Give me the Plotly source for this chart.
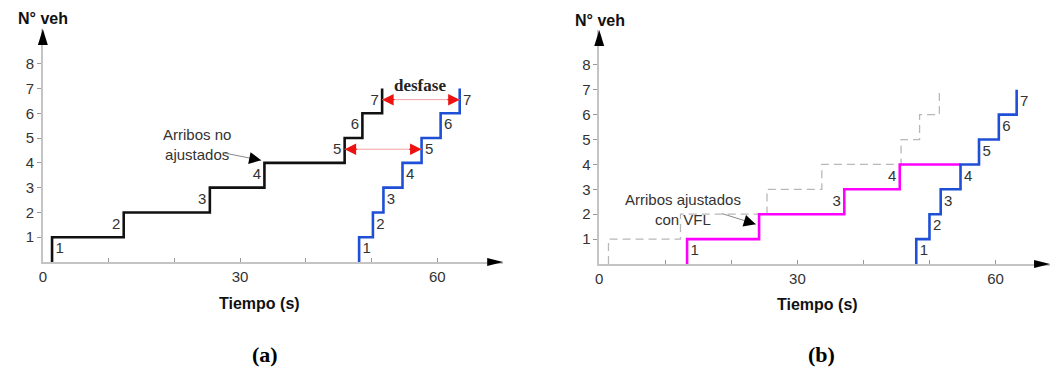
import plotly.graph_objects as go

# ---------------- data ----------------
# (a) unadjusted arrivals (black) and downstream curve (blue): times in s for vehicles 1..7
black_a_times = [1.4, 12.3, 25.4, 33.7, 45.9, 48.6, 51.6]
blue_a_times = [48.1, 50.2, 51.8, 54.7, 57.6, 60.5, 63.4]
# (b) unadjusted (grey dashed), adjusted with VFL (magenta), blue
grey_b_times = [1.4, 12.3, 25.4, 33.7, 45.7, 48.5, 51.5]
magenta_b_times = [13.3, 24.2, 37.1, 45.5]
blue_b_times = [48.0, 50.0, 51.7, 54.7, 57.5, 60.5, 63.2]
veh_labels = ["1", "2", "3", "4", "5", "6", "7"]
y_ticks = [1, 2, 3, 4, 5, 6, 7, 8]
x_ticks = [0, 10, 20, 30, 40, 50, 60]
x_ticktext = ["0", "", "", "30", "", "", "60"]

W, H = 1054, 367
TXT = "#333333"
AXC = "#c4c4c4"
BLUE = "#1f4fd6"
MAG = "#ff00ff"
BLK = "#111111"
SANS = "Liberation Sans, Arial"
SERIF = "Liberation Serif, Times New Roman"


def steps(times, final=None):
    xs = [times[0]]
    ys = [0]
    for k, t in enumerate(times):
        xs.append(t)
        ys.append(k + 1)
    if final is not None:
        xs.append(final)
        ys.append(len(times))
    return xs, ys


fig = go.Figure()


def add_step(times, xa, ya, color, width=2.6, dash=None, final=None):
    xs, ys = steps(times, final)
    fig.add_trace(go.Scatter(x=xs, y=ys, mode="lines", line_shape="hv",
                             line=dict(color=color, width=width, dash=dash),
                             xaxis=xa, yaxis=ya, hoverinfo="skip"))


def add_labels(times, xa, ya, sides, idx=None):
    idx = idx if idx is not None else list(range(len(times)))
    fig.add_trace(go.Scatter(
        x=[times[i] + 1.15 * sides[j] for j, i in enumerate(idx)],
        y=[i + 0.5 for i in idx],
        text=[veh_labels[i] for i in idx], mode="text",
        textposition="middle center",
        textfont=dict(family=SANS, size=15, color=TXT),
        xaxis=xa, yaxis=ya, hoverinfo="skip", cliponaxis=False))


# panel (a)
add_step(black_a_times, "x", "y", BLK)
add_step(blue_a_times, "x", "y", BLUE)
add_labels(black_a_times, "x", "y", [1] + [-1] * 6)
add_labels(blue_a_times, "x", "y", [1] * 7)

# panel (b)
add_step(grey_b_times, "x2", "y2", "#b8b8b8", width=1.3, dash="8px,5px")
add_step(magenta_b_times, "x2", "y2", MAG, final=blue_b_times[3])
add_step(blue_b_times, "x2", "y2", BLUE)
add_labels(magenta_b_times, "x2", "y2", [1, -1, -1], idx=[0, 2, 3])
add_labels(blue_b_times, "x2", "y2", [1] * 7)

# ---------------- axes ----------------
A_X0, A_X1 = 39, 501
A_Y0, A_Y1 = 262, 29
B_X0, B_X1 = 597.5, 1050
B_Y0, B_Y1 = 264, 30
XR_A = [0, 70]
XR_B = [0, 68.25]
YR = [0, 9.4]

common_x = dict(showgrid=False, zeroline=False, showline=True, linecolor=AXC, linewidth=1.5,
                tickvals=x_ticks, ticktext=x_ticktext, ticks="inside", ticklen=4, tickcolor="#999",
                tickfont=dict(family=SANS, size=15, color=TXT), fixedrange=True)
common_y = dict(showgrid=False, zeroline=False, showline=True, linecolor=AXC, linewidth=1.5,
                tickvals=y_ticks, ticks="outside", ticklen=4, tickcolor="#999",
                tickfont=dict(family=SANS, size=15, color=TXT), fixedrange=True,
                range=YR)

fig.update_layout(
    width=W, height=H, autosize=False, margin=dict(l=0, r=0, t=0, b=0),
    paper_bgcolor="white", plot_bgcolor="white", showlegend=False,
    xaxis=dict(common_x, domain=[A_X0 / W, A_X1 / W], range=XR_A, anchor="y"),
    yaxis=dict(common_y, domain=[(H - A_Y0) / H, (H - A_Y1) / H], anchor="x"),
    xaxis2=dict(common_x, domain=[B_X0 / W, B_X1 / W], range=XR_B, anchor="y2"),
    yaxis2=dict(common_y, domain=[(H - B_Y0) / H, (H - B_Y1) / H], anchor="x2"),
)


def px(xp, yp):
    return f"{xp / W:.5f},{1 - yp / H:.5f}"


# axis arrowheads (paper coordinates, so they are not clipped)
for x0, y0, x1, y1 in ((A_X0, A_Y0, A_X1, A_Y1), (B_X0, B_Y0, B_X1, B_Y1)):
    fig.add_shape(type="path", xref="paper", yref="paper", fillcolor="black", line=dict(width=0),
                  path=f"M {px(x0 - 5, y1 + 16)} L {px(x0, y1)} L {px(x0 + 5, y1 + 16)} Z")
    fig.add_shape(type="path", xref="paper", yref="paper", fillcolor="black", line=dict(width=0),
                  path=f"M {px(x1 - 16, y0 - 4)} L {px(x1, y0)} L {px(x1 - 16, y0 + 4)} Z")

ann = []


def text(x, y, s, size, family, color="#111", xref="paper", yref="paper"):
    ann.append(dict(xref=xref, yref=yref, x=x, y=y, text=s, showarrow=False,
                    xanchor="center", yanchor="middle",
                    font=dict(family=family, size=size, color=color)))


# axis titles and panel letters
text(39 / W, 1 - 18 / H, "<b>N° veh</b>", 16, SANS)
text(598 / W, 1 - 20 / H, "<b>N° veh</b>", 16, SANS)
text(256 / W, 1 - 303 / H, "<b>Tiempo (s)</b>", 16, SANS)
text(817 / W, 1 - 304 / H, "<b>Tiempo (s)</b>", 16, SANS)
text(262 / W, 1 - 354 / H, "<b>(a)</b>", 22, SERIF, "#000")
text(821 / W, 1 - 354 / H, "<b>(b)</b>", 22, SERIF, "#000")

# desfase double arrows (between 5th and 7th vehicles)
for k in (4, 6):
    yv = k + 1 - 0.45
    x0, x1 = black_a_times[k], blue_a_times[k]
    fig.add_shape(type="line", xref="x", yref="y", x0=x0, x1=x1, y0=yv, y1=yv,
                  line=dict(color="#f4a0a0", width=1))
    ann.append(dict(xref="x", yref="y", x=x0, y=yv, ax=14, ay=0, text="", showarrow=True,
                    arrowhead=2, arrowsize=2.3, arrowwidth=1, arrowcolor="#ee1111"))
    ann.append(dict(xref="x", yref="y", x=x1, y=yv, ax=-14, ay=0, text="", showarrow=True,
                    arrowhead=2, arrowsize=2.3, arrowwidth=1, arrowcolor="#ee1111"))
text(57.4, 7.14, "<b>desfase</b>", 17, SERIF, "#222", "x", "y")

# callouts
text(23.5, 4.72, "Arribos no<br>ajustados", 15, SANS, TXT, "x", "y")
tip_a = (black_a_times[3] - 0.5, 4.1)
ann.append(dict(xref="x", yref="y", x=tip_a[0], y=tip_a[1], ax=-40, ay=-8, text="", showarrow=True,
                arrowhead=0, arrowwidth=1, arrowcolor="#888"))
ann.append(dict(xref="x", yref="y", x=tip_a[0], y=tip_a[1], ax=-10, ay=-2, text="", showarrow=True,
                arrowhead=2, arrowsize=2.4, arrowwidth=1, arrowcolor="#000"))

text(12.7, 2.2, "Arribos ajustados<br>con VFL", 15, SANS, TXT, "x2", "y2")
tip_b = (magenta_b_times[1] - 0.5, 1.6)
ann.append(dict(xref="x2", yref="y2", x=tip_b[0], y=tip_b[1], ax=-35, ay=-11, text="", showarrow=True,
                arrowhead=0, arrowwidth=1, arrowcolor="#888"))
ann.append(dict(xref="x2", yref="y2", x=tip_b[0], y=tip_b[1], ax=-10, ay=-3, text="", showarrow=True,
                arrowhead=2, arrowsize=2.4, arrowwidth=1, arrowcolor="#000"))

fig.update_layout(annotations=ann)
fig.write_html("out.html")
